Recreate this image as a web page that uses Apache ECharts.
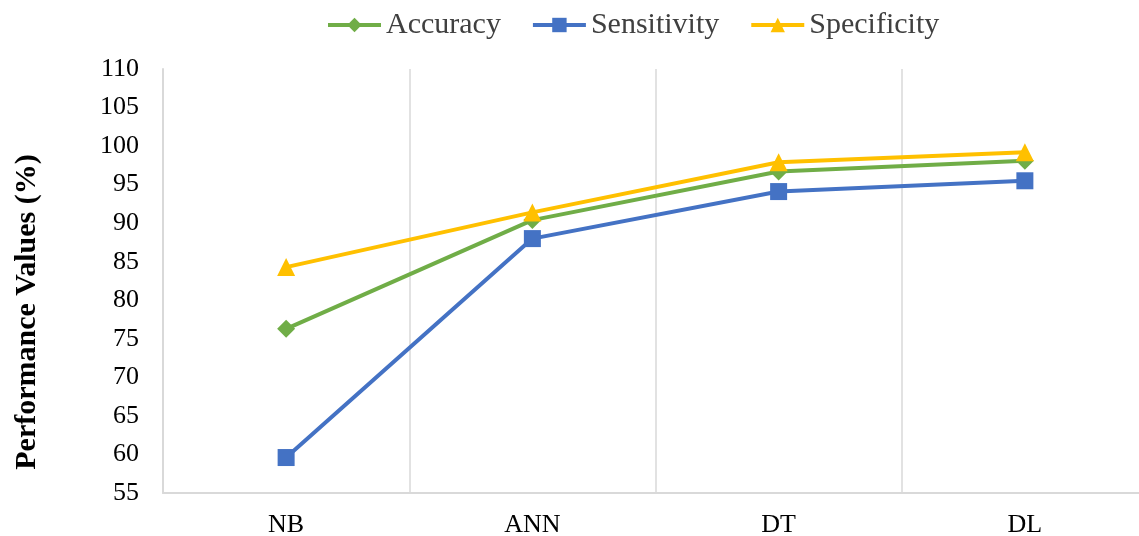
<!DOCTYPE html>
<html>
<head>
<meta charset="utf-8">
<script src="https://cdn.jsdelivr.net/npm/echarts@6/dist/echarts.min.js"></script>
<style>html,body{margin:0;padding:0;background:#fff}#c{width:1139px;height:536px}</style>
</head>
<body>
<div id="c"></div>
<script>
var categories = ['NB', 'ANN', 'DT', 'DL'];
var accuracy = [76.3, 90.4, 96.7, 98.1];
var sensitivity = [59.6, 88.0, 94.1, 95.5];
var specificity = [84.3, 91.4, 97.9, 99.2];
var yTicks = {min: 55, max: 110, interval: 5};

var FONT = '"Liberation Serif", "Times New Roman", serif';
var chart = echarts.init(document.getElementById('c'), null, {renderer: 'canvas'});
function ser(name, data, color, symbol, size) {
  return {
    name: name, type: 'line', data: data, symbol: symbol, symbolSize: size,
    lineStyle: {color: color, width: 4}, itemStyle: {color: color},
    emphasis: {disabled: true}, animation: false
  };
}
chart.setOption({
  animation: false,
  legend: {
    top: 5, left: 321, itemWidth: 53, itemHeight: 18, itemGap: 30,
    lineStyle: {width: 4},
    textStyle: {fontFamily: FONT, fontSize: 30, color: '#404040'},
    data: ['Accuracy', 'Sensitivity', 'Specificity']
  },
  grid: {left: 163, width: 985, top: 69, bottom: 43, containLabel: false, outerBoundsMode: 'none'},
  xAxis: {
    type: 'category', data: categories, boundaryGap: true,
    axisLine: {show: true, lineStyle: {color: '#d9d9d9', width: 2}},
    axisTick: {show: false},
    splitLine: {show: true, lineStyle: {color: '#d9d9d9', width: 1.5}},
    axisLabel: {fontFamily: FONT, fontSize: 26, color: '#000', margin: 19}
  },
  yAxis: {
    type: 'value', min: yTicks.min, max: yTicks.max, interval: yTicks.interval,
    name: 'Performance Values (%)', nameLocation: 'middle', nameGap: 121, nameRotate: 90,
    nameTextStyle: {fontFamily: FONT, fontSize: 30, fontWeight: 'bold', color: '#000', padding: [0, 62, 0, 0]},
    axisLine: {show: true, lineStyle: {color: '#d9d9d9', width: 2}},
    axisTick: {show: false},
    splitLine: {show: false},
    axisLabel: {fontFamily: FONT, fontSize: 26, color: '#000', margin: 24}
  },
  series: [
    ser('Accuracy', accuracy, '#70ad47', 'diamond', 18),
    ser('Sensitivity', sensitivity, '#4472c4', 'rect', 17),
    ser('Specificity', specificity, '#ffc000', 'triangle', 18)
  ]
});
</script>
</body>
</html>
